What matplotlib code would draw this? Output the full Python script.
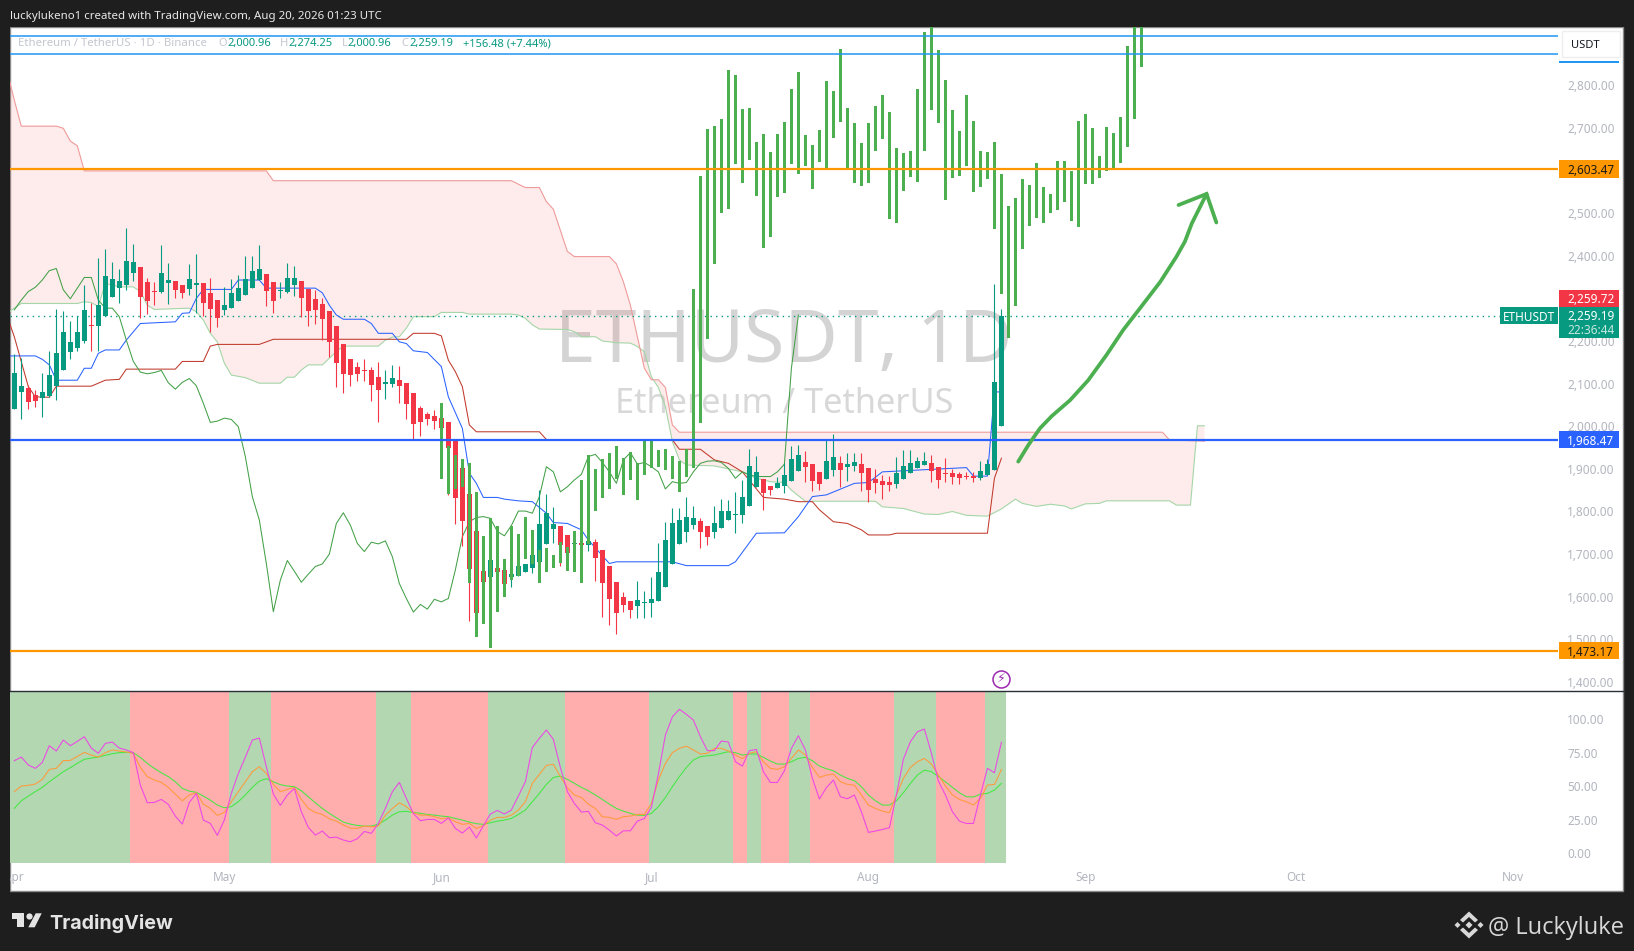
import numpy as np
import matplotlib
matplotlib.use("Agg")
from matplotlib import pyplot as plt
from matplotlib.patches import Rectangle, Polygon
from matplotlib.transforms import blended_transform_factory

plt.rcParams['font.family'] = ['Noto Sans', 'DejaVu Sans']

# daily candles, day 0 = 1 Apr
opens = [2040,2081,2090,2073,2067,2071,2095,2132,2174,2184,
         2200,2238,2235,2259,2304,2325,2331,2360,2374,2338,
         2317,2315,2336,2341,2331,2322,2332,2335,2312,2296,
         2273,2278,2294,2308,2324,2343,2356,2338,2317,2315,
         2331,2340,2323,2299,2287,2270,2235,2193,2158,2138,
         2132,2132,2116,2099,2099,2108,2101,2078,2043,2029,
         2024,2019,2010,1968,1902,1841,1754,1660,1646,1667,
         1663,1646,1649,1658,1667,1682,1724,1759,1766,1745,
         1724,1725,1721,1729,1710,1672,1635,1599,1590,1578,
         1585,1585,1590,1623,1677,1724,1752,1768,1778,1766,
         1752,1761,1780,1791,1792,1813,1858,1876,1860,1855,
         1860,1872,1895,1916,1911,1893,1876,1897,1914,1904,
         1907,1911,1902,1876,1872,1869,1865,1876,1890,1902,
         1909,1914,1904,1890,1890,1888,1883,1883,1879,1886,
         1897,2000.96]
closes = [2125,2094,2058,2059,2080,2120,2172,2221,2198,2220,
          2273,2236,2284,2352,2345,2341,2388,2385,2304,2294,
          2316,2359,2343,2320,2313,2345,2335,2290,2276,2255,
          2284,2312,2324,2345,2364,2368,2318,2294,2320,2347,
          2347,2302,2270,2273,2252,2198,2149,2123,2121,2123,
          2130,2097,2085,2104,2113,2094,2053,2006,2010,2017,
          2012,1995,1948,1832,1778,1665,1562,1635,1686,1658,
          1630,1653,1672,1677,1698,1771,1796,1771,1721,1703,
          1725,1722,1730,1691,1632,1595,1562,1581,1569,1592,
          1588,1595,1658,1733,1773,1780,1787,1785,1752,1740,
          1773,1801,1801,1794,1834,1907,1893,1843,1850,1867,
          1886,1923,1933,1904,1872,1865,1919,1928,1897,1911,
          1916,1890,1850,1867,1862,1862,1890,1907,1914,1919,
          1919,1895,1874,1888,1881,1879,1882,1879,1895,1911,
          2104,2259.19]
highs = [2170,2159,2097,2085,2124,2177,2274,2270,2247,2259,
         2331,2288,2395,2415,2385,2370,2464,2428,2374,2347,
         2338,2425,2382,2341,2331,2381,2404,2335,2347,2296,
         2326,2345,2355,2399,2399,2425,2356,2338,2338,2382,
         2376,2340,2323,2320,2300,2270,2235,2193,2158,2150,
         2158,2140,2150,2132,2144,2141,2101,2078,2048,2034,
         2038,2019,2010,1968,1902,1841,1754,1678,1702,1667,
         1663,1653,1686,1677,1718,1850,1841,1811,1766,1745,
         1725,1725,1737,1735,1710,1672,1635,1612,1590,1637,
         1613,1646,1726,1775,1808,1808,1834,1813,1785,1766,
         1813,1829,1827,1846,1874,1947,1930,1876,1860,1882,
         1913,1954,1956,1942,1911,1893,1970,1982,1930,1937,
         1937,1937,1902,1900,1886,1883,1928,1944,1944,1928,
         1940,1933,1904,1926,1900,1893,1893,1893,1918,1923,
         2334,2274.25]
lows = [2040,2017,2040,2046,2022,2069,2062,2132,2158,2177,
        2195,2177,2177,2259,2304,2288,2320,2341,2255,2263,
        2284,2312,2287,2302,2302,2308,2265,2259,2222,2232,
        2261,2278,2294,2308,2324,2343,2281,2266,2302,2312,
        2306,2257,2235,2241,2202,2163,2093,2079,2095,2105,
        2107,2060,2011,2064,2093,2055,2018,1970,1977,2003,
        1994,1983,1839,1771,1718,1542,1530,1635,1639,1658,
        1630,1624,1649,1658,1656,1682,1724,1725,1672,1703,
        1724,1722,1708,1637,1553,1534,1513,1565,1549,1551,
        1550,1553,1590,1623,1677,1724,1729,1759,1714,1721,
        1738,1761,1780,1750,1773,1813,1858,1804,1839,1855,
        1843,1872,1895,1869,1848,1850,1876,1883,1858,1872,
        1895,1848,1822,1843,1829,1848,1855,1876,1890,1902,
        1909,1869,1855,1869,1865,1865,1876,1869,1874,1886,
        1897,2000.96]

# hand drawn bar pattern, day 61 to day 161
bars_first_day = 61
bars_top = [2055,1954,1933,1923,1914,1846,1743,1785,1766,1689,
            1766,1747,1787,1757,1710,1714,1698,1729,1717,1754,
            1874,1933,1900,1923,1937,1954,1926,1940,1914,1970,
            1970,1944,1947,1930,1918,1947,2322,2587,2697,2704,
            2721,2836,2824,2744,2747,2667,2686,2643,2686,2714,
            2791,2831,2683,2660,2695,2810,2786,2885,2747,2711,
            2665,2711,2751,2777,2737,2653,2641,2646,2791,2925,
            2953,2883,2812,2742,2693,2777,2716,2646,2643,2667,
            2592,2517,2535,2580,2566,2618,2561,2545,2622,2622,
            2599,2716,2733,2700,2634,2702,2688,2726,2892,2953,
            2953]
bars_bottom = [1876,1841,1853,1858,1632,1506,1536,1480,1564,1599,
               1639,1649,1689,1677,1632,1658,1667,1679,1660,1658,
               1632,1724,1801,1832,1853,1876,1839,1874,1827,1886,
               1902,1904,1897,1876,1846,1881,1902,2008,2205,2381,
               2500,2510,2615,2571,2625,2540,2418,2444,2538,2547,
               2615,2592,2611,2557,2620,2603,2676,2714,2601,2571,
               2564,2571,2646,2674,2486,2477,2552,2585,2573,2646,
               2742,2711,2531,2582,2587,2611,2550,2561,2580,2463,
               2310,2207,2282,2416,2470,2489,2477,2500,2507,2526,
               2482,2467,2568,2568,2582,2599,2606,2618,2655,2721,
               2843]

# ichimoku
chikou = [2273,2296,2316,2326,2343,2365,2370,2320,2299,2324,
          2349,2349,2296,2277,2277,2257,2202,2152,2127,2123,
          2126,2131,2102,2087,2103,2112,2095,2054,2009,2012,
          2019,2016,1999,1929,1835,1780,1678,1565,1639,1685,
          1660,1634,1653,1671,1677,1700,1772,1797,1768,1725,
          1706,1728,1724,1731,1694,1631,1596,1564,1582,1571,
          1594,1588,1596,1663,1741,1776,1786,1788,1784,1753,
          1743,1767,1801,1801,1796,1835,1905,1893,1846,1858,
          1874,1887,1929,1934,1915,1893,1866,1921,1938,1911,
          1915,1905,1893,1853,1870,1866,1868,1893,1913,1918,
          1919,1915,1901,1878,1893,1886,1882,1882,1882,1893,
          1911,2136,2261]
tenkan_days = [-1,3,4,5,6,9,10,11,12,13,15,16,18,23,24,25,26,27,31,32,35,36,43,44,45,46,47,50,51,52,54,55,56,57,59,61,62,64,65,66,67,69,70,72,74,76,77,79,81,82,85,86,94,96,102,103,106,110,112,114,116,120,122,124,136,137,139,140,141]
tenkan_vals = [2165,2165,2157,2144,2108,2108,2136,2136,2171,2179,2179,2202,2241,2245,2265,2266,2300,2321,2321,2343,2343,2324,2324,2313,2284,2261,2251,2251,2241,2218,2218,2198,2194,2177,2173,2140,2069,1995,1890,1866,1833,1833,1829,1825,1823,1796,1774,1772,1757,1733,1678,1682,1682,1673,1673,1682,1749,1750,1788,1835,1839,1866,1868,1893,1903,1883,1883,2081,2080]
kijun_days = [-1,0,2,3,5,6,11,13,15,16,23,24,27,28,29,35,37,56,57,60,61,62,63,64,65,66,75,76,77,94,95,98,100,102,104,107,110,112,114,115,117,119,121,122,125,126,139,140,141]
kijun_vals = [2257,2210,2093,2069,2068,2094,2094,2108,2110,2134,2134,2152,2152,2188,2192,2192,2204,2204,2218,2218,2212,2155,2128,2093,2003,1987,1987,1969,1968,1968,1946,1946,1921,1913,1893,1833,1829,1823,1823,1804,1776,1772,1757,1745,1745,1749,1749,1878,1925]
span_a_days = [-1,0,1,9,10,11,12,13,15,17,18,19,20,25,26,27,28,29,30,31,33,35,38,39,40,41,42,44,46,47,52,53,54,55,56,57,60,61,64,65,71,72,73,74,75,79,80,81,83,84,86,88,89,90,91,92,93,94,95,96,100,104,106,108,110,111,113,123,124,127,130,132,134,136,139,141,143,144,146,148,150,151,153,155,156,165,166,168,169,170]
span_a_vals = [2265,2277,2288,2288,2292,2290,2281,2335,2327,2327,2316,2284,2274,2277,2269,2249,2218,2198,2148,2120,2114,2101,2101,2115,2115,2132,2144,2144,2175,2188,2188,2202,2209,2210,2230,2257,2257,2267,2267,2263,2263,2261,2253,2238,2228,2227,2222,2210,2210,2200,2196,2195,2187,2175,2116,2091,2046,1964,1921,1909,1907,1893,1878,1870,1868,1850,1824,1824,1811,1807,1794,1793,1800,1791,1789,1806,1829,1819,1812,1817,1813,1806,1818,1819,1825,1825,1815,1815,2001,2001]
span_b_days = [-1,0,1,6,7,8,9,10,36,37,71,73,75,76,77,79,80,85,86,87,88,89,90,91,92,93,94,95,164,165,170]
span_b_vals = [2832,2765,2704,2704,2699,2669,2658,2599,2599,2576,2576,2560,2560,2527,2509,2410,2398,2398,2381,2339,2284,2210,2136,2109,2109,2091,2003,1986,1986,1968,1965]

# levels drawn on the chart
level_orange = [2603.47, 1473.17]
level_blue = 1968.47
level_cyan = [2914.8, 2872.6]
last_price = 2259.19
price_ticks = list(range(1400, 2900, 100))

# hand drawn arrow
arrow_days = [143.4,144.85,146.5,148.2,150.8,153.4,156,158.4,160.8,163.7,166,167.2,168.2,170.3]
arrow_vals = [1917,1956,1995,2024,2061,2108,2167,2226,2277,2339,2398,2433,2476,2545]
head_days = [166.3,170.3,171.7]
head_vals = [2519,2545,2478]

# stochastic pane
stoch_k = [69.1,71.8,65.9,63.4,67.8,80.3,76.3,84.5,80.3,83.5,
           87,78.5,74.6,82,83,78.5,77.1,75.1,50.9,37.7,
           38,40.2,36.5,27.8,21.8,38,44.7,24.8,22.3,13.4,
           24.8,44.7,59.6,71.6,84.5,86,64.6,44.2,35.7,43.5,
           48.4,31,19.3,13.6,16.6,11.6,12.1,9.9,8.6,10.9,
           16.3,14.9,22.3,33.5,46,52.9,41,29.8,24.3,25.3,
           25.3,22.3,26.5,18.6,15.1,19.6,11.4,20.6,29.3,32,
           29.3,32.3,42.7,53.4,79,85.8,92,85,64.1,46,
           37.2,30.8,31.3,22.8,21.1,17.3,12.9,16.8,16.8,24,
           26,34.3,59.1,88.2,101.9,107.4,103.7,99.4,87,76.6,
           76.6,83.8,83,68.3,65.1,76.6,77.5,60.9,52.9,52.9,
           61.6,78.3,87.7,77.1,55.9,40.5,49,54.7,42.2,40.7,
           43.5,31,15.6,16.6,17.8,19.1,43.5,70.3,83.3,90.7,
           92.7,74.6,53.9,43.5,31,24,22.3,22.3,43.5,63.4,
           60.1,82.8]
stoch_d = [46,50.2,50.7,51.7,55.2,62.6,63.4,69.1,69.3,72.3,
           75.3,73.3,71.8,75.1,77.1,76.3,75.6,74.6,64.1,57.2,
           54.7,52.9,49.2,44.2,39.2,43.5,45.2,36.7,33.5,28.3,
           30.5,38.5,46,53.4,60.9,64.6,59.6,51.4,46,47.7,
           49.2,40.2,33.5,30.5,29,25.8,24,21.1,18.8,18.6,
           20.3,19.8,20.3,28.5,33.5,37.7,34.8,30.3,28.5,28.5,
           27.3,25.8,26.5,23.6,21.6,22.3,18.6,20.6,24.8,26.8,
           26.8,28.5,32.3,38.5,52.2,58.9,65.6,66.4,57.2,48.9,
           43.5,41.7,36.7,33.5,27.3,26.8,25.3,27.3,27.8,29,
           29,37.2,54.7,67.1,75.1,78.3,80,77.1,74.1,74.6,
           78.3,78.3,76.3,73.3,70.6,74.6,75.8,68.3,63.4,62.6,
           64.6,70.8,77.1,73.3,64.1,56.6,58.4,59.1,53.4,51.4,
           50.9,43.5,36,33.5,31.5,30.3,43.5,55.9,64.1,68.3,
           70.8,66.6,58.4,50.2,43.5,40.2,38.5,36,41,50.9,
           51.4,62.6]
stoch_slow = [33.5,39.2,42.7,46,49.2,53.4,57.2,60.9,63.9,67.1,
              70.1,71.1,71.8,73.1,74.3,75.1,75.3,75.1,71.6,67.1,
              63.4,60.1,57.2,53.4,48.4,46.4,45.5,42.7,39.7,36,
              34,34.8,38.5,43.5,49.2,53.9,55.7,53.4,51.2,50.2,
              49.7,46.7,42.2,37.7,33.5,29.8,26.5,23.3,21.8,20.8,
              20.3,20.3,21.8,24.8,28.5,31,31.3,30.5,29.8,29,
              28.5,27.8,27.3,26,24.8,23.3,22.1,21.6,22.8,24,
              24.8,26,29,32.3,38.5,44.7,51.4,56.6,57.6,55.2,
              52.2,49.2,46.7,43.5,40.2,36.7,33.5,31.5,29.8,28.5,
              28.3,29.8,34.8,41.7,49.7,57.2,64.1,69.6,72.1,72.8,
              73.3,74.6,75.8,75.1,73.3,74.1,74.1,71.6,68.8,66.6,
              66.6,68.3,70.8,71.6,69.1,65.1,63.1,61.6,58.4,55.9,
              54.2,49.7,43.5,39.2,36,36,39.2,45.2,52.2,58.4,
              62.1,60.9,57.2,53.4,49.2,45.2,42.2,42,44.2,44.7,
              47.2,52.2]
# days where the background colour flips, starts green
stoch_flips = [-0.6,16.5,30.7,36.7,51.6,56.7,67.7,78.7,90.7,102.7,104.7,106.7,110.7,113.7,125.7,131.7,138.7,141.7]
stoch_ticks = [0, 25, 50, 75, 100]

month_days = [0, 30, 61, 91, 122, 153, 183, 214]
month_names = ['Apr', 'May', 'Jun', 'Jul', 'Aug', 'Sep', 'Oct', 'Nov']

W, H = 1634, 951
DARK = '#1E1E1E'
TEAL = '#089981'
RED = '#F23645'
BARGREEN = '#4CAF50'
ORANGE = '#FF9800'
GREY = '#B2B5BE'


def px_box(left, top, right, bottom):
    return [left / W, 1 - bottom / H, (right - left) / W, (bottom - top) / H]


def fig_rect(left, top, right, bottom, **kw):
    fig.add_artist(Rectangle((left / W, 1 - bottom / H), (right - left) / W, (bottom - top) / H,
                             transform=fig.transFigure, **kw))


def fig_poly(pts, **kw):
    fig.add_artist(Polygon([(x / W, 1 - y / H) for x, y in pts], closed=True,
                           transform=fig.transFigure, **kw))


def fig_text(x, y, s, **kw):
    kw.setdefault('va', 'center_baseline')
    fig.text(x / W, 1 - y / H, s, **kw)


def price_tag(price, label, face, color, left=1559, right=1619, half=20, text_at=None):
    """colored label on the price scale"""
    tr = blended_transform_factory(fig.transFigure, ax.transData)
    ax.add_patch(Rectangle((left / W, price - half), (right - left) / W, 2 * half, transform=tr,
                           facecolor=face, edgecolor='none', clip_on=False, zorder=20))
    ax.text(1567 / W, price if text_at is None else text_at, label, transform=tr, color=color, fontsize=8.5,
            va='center_baseline', ha='left', clip_on=False, zorder=21)


fig = plt.figure(figsize=(W / 100, H / 100), dpi=100, facecolor=DARK)
fig_rect(10, 27, 1623, 891, facecolor='white', edgecolor='#8A8A8A', linewidth=1, zorder=-1)

ax = fig.add_axes(px_box(10, 27, 1558, 691))
osc = fig.add_axes(px_box(10, 691, 1558, 862.7))
for a in (ax, osc):
    a.set_xlim(-0.614, 220.5)
    for s in a.spines.values():
        s.set_visible(False)
ax.set_ylim(1378.9, 2936.6)
osc.set_ylim(-7, 121.1)

# watermark under everything
ax.patch.set_alpha(0)
fig_text(784, 361.5, 'ETHUSDT, 1D', fontsize=52.7, color='#D4D4D4', ha='center', va='baseline', zorder=-0.5)
fig_text(784, 412.7, 'Ethereum / TetherUS', fontsize=24.7, color='#D8D8D8', ha='center', va='baseline', zorder=-0.5)

# cloud
cloud_x = list(span_a_days) + list(span_b_days[::-1])
cloud_y = list(span_a_vals) + list(span_b_vals[::-1])
ax.fill(cloud_x, cloud_y, facecolor='#EF5350', alpha=0.11, edgecolor='none', zorder=1)

ax.plot(span_a_days, span_a_vals, color='#A5D6A7', lw=0.8, zorder=2)
ax.plot(span_b_days, span_b_vals, color='#EF9A9A', lw=0.8, zorder=2)
ax.plot(kijun_days, kijun_vals, color='#C0392B', lw=0.75, zorder=3)
ax.plot(tenkan_days, tenkan_vals, color='#2962FF', lw=0.75, zorder=3)
ax.plot(range(len(chikou)), chikou, color='#43A047', lw=0.75, zorder=3)

# candles
days = np.arange(len(opens))
o = np.array(opens)
c = np.array(closes)
candle_colors = [TEAL if cl >= op else RED for op, cl in zip(o, c)]
ax.vlines(days, lows, highs, colors=candle_colors, lw=0.8, zorder=4)
ax.bar(days, np.maximum(np.abs(c - o), 2), bottom=np.minimum(o, c), width=0.66, color=candle_colors, zorder=5)

# the green bar pattern
bar_days = bars_first_day + np.arange(len(bars_top))
top = np.array(bars_top)
bot = np.array(bars_bottom)
ax.bar(bar_days, top - bot, bottom=bot, width=0.43, color=BARGREEN, zorder=6)

# levels
ax.axhline(last_price, color=TEAL, lw=1, ls=(0, (1, 3)), zorder=2)
for lv in level_cyan:
    ax.axhline(lv, color='#2196F3', lw=1.1, zorder=7)
for lv in level_orange:
    ax.axhline(lv, color=ORANGE, lw=1.6, zorder=7)
ax.axhline(level_blue, color='#2962FF', lw=1.6, zorder=7)

# arrow
ax.plot(arrow_days, arrow_vals, color=BARGREEN, lw=2.7, solid_capstyle='round', zorder=8)
ax.plot(head_days, head_vals, color=BARGREEN, lw=2.7, solid_capstyle='round', solid_joinstyle='miter', zorder=8)

# dividends mark
ax.scatter([141], [1408], s=150, facecolor='white', edgecolor='#9C27B0', linewidth=1.1, zorder=9, clip_on=False)
ax.text(141, 1408, '\u26A1', color='#9C27B0', fontsize=9, ha='center', va='center', zorder=10,
        family=['DejaVu Sans'])

# axes ticks
ax.set_xticks([])
ax.yaxis.tick_right()
ax.set_yticks(price_ticks)
ax.set_yticklabels(['{:,.2f}'.format(p) for p in price_ticks], va='center_baseline')
ax.tick_params(axis='y', length=0, pad=6.5, labelsize=8.5, labelcolor=GREY)

# stochastic pane
for k in range(len(stoch_flips) - 1):
    col = '#B3D7B0' if k % 2 == 0 else '#FFADAD'
    osc.axvspan(stoch_flips[k], stoch_flips[k + 1], color=col, lw=0, zorder=1)
osc.plot(range(len(stoch_k)), stoch_k, color='#EE44E8', lw=0.75, zorder=4)
osc.plot(range(len(stoch_d)), stoch_d, color='#FF9A3C', lw=0.75, zorder=3)
osc.plot(range(len(stoch_slow)), stoch_slow, color='#44E844', lw=0.75, zorder=2)
osc.yaxis.tick_right()
osc.set_yticks(stoch_ticks)
osc.set_yticklabels(['{:.2f}'.format(v) for v in stoch_ticks], va='center_baseline')
osc.set_xticks(month_days)
osc.set_xticklabels(month_names)
osc.tick_params(axis='y', length=0, pad=6.5, labelsize=8.5, labelcolor=GREY)
osc.tick_params(axis='x', length=0, pad=6, labelsize=8.5, labelcolor=GREY)
for lbl in osc.get_xticklabels():
    lbl.set_fontweight('bold')

# pane separator
fig.add_artist(plt.Line2D([10 / W, 1623 / W], [1 - 691 / H, 1 - 691 / H], color='#2A2E39', lw=1, zorder=5))

# price scale tags
price_tag(level_orange[0], '2,603.47', ORANGE, '#1A1A1A')
price_tag(level_orange[1], '1,473.17', ORANGE, '#1A1A1A')
price_tag(level_blue, '1,968.47', '#2962FF', 'white')
price_tag(2300, '2,259.72', RED, 'white')
tr = blended_transform_factory(fig.transFigure, ax.transData)
ax.add_patch(Rectangle((1559 / W, 2207.5), 60 / W, 71.5, transform=tr, facecolor=TEAL, edgecolor='none',
                       clip_on=False, zorder=20))
ax.text(1567 / W, 2262, '2,259.19', transform=tr, color='white', fontsize=8.5, va='center_baseline',
        clip_on=False, zorder=21)
ax.text(1567 / W, 2229, '22:36:44', transform=tr, color='#C5E8DF', fontsize=8.5, va='center_baseline',
        clip_on=False, zorder=21)
ax.add_patch(Rectangle((1500 / W, last_price - 20), 58 / W, 40, transform=tr, facecolor=TEAL, edgecolor='none',
                       clip_on=False, zorder=20))
ax.text(1529 / W, last_price, 'ETHUSDT', transform=tr, color='white', fontsize=8.5, va='center_baseline', ha='center',
        clip_on=False, zorder=21)

# currency button
fig_rect(1562, 31, 1620, 57, facecolor='white', edgecolor='#EEEEEE', linewidth=1, zorder=5)
fig_text(1585, 44.5, 'USDT', color='#131722', fontsize=8, ha='center', zorder=6)
fig_rect(1559, 60.5, 1619, 62.5, facecolor='#2196F3', edgecolor='none', zorder=6)

# frame covers on left, hides clipped Apr label
fig_rect(0, 0, 9.5, H, facecolor=DARK, edgecolor='none', zorder=10)
fig_rect(0, 0, W, 26.5, facecolor=DARK, edgecolor='none', zorder=10)

# header and legend
fig_text(10, 14.5, 'luckylukeno1 created with TradingView.com, Aug 20, 2026 01:23 UTC', color='#E8E8E8', fontsize=8.25,
         zorder=11)
fig_text(18, 42, 'Ethereum / TetherUS \u00b7 1D \u00b7 Binance', color='#C4C6CE', fontsize=8.2, zorder=11)
legend_bits = [(218, 'O', '#C4C6CE'), (227, '2,000.96', TEAL), (280, 'H', '#C4C6CE'), (288, '2,274.25', TEAL),
               (342, 'L', '#C4C6CE'), (347.5, '2,000.96', TEAL), (401, 'C', '#C4C6CE'), (409, '2,259.19', TEAL),
               (462.5, '+156.48 (+7.44%)', TEAL)]
for lx, ls_, lc in legend_bits:
    fig_text(lx, 42, ls_, color=lc, fontsize=8, zorder=11)

# TradingView logo
LOGO = '#E4E4E4'
fig_poly([(12, 913.3), (24, 913.3), (24, 927.3), (17.3, 927.3), (17.3, 918.7), (12, 918.7)], facecolor=LOGO, edgecolor='none', zorder=11)
fig_poly([(35.7, 913.3), (41.7, 913.3), (34.7, 927.3), (28.3, 927.3)], facecolor=LOGO, edgecolor='none', zorder=11)
fig.add_artist(plt.Line2D([29.3 / W], [1 - 916 / H], marker='o', ms=4.5, color=LOGO, mew=0, zorder=11))
fig_text(49, 921.5, 'TradingView', color=LOGO, fontsize=14.2, fontweight='bold', family=['Inter', 'Noto Sans'], zorder=11)

# binance mark and signature
SIG = '#D8D8D8'
bx, by = 1469, 925
for dx, r in [(0, 3.5), (-11.5, 3), (11.5, 3)]:
    fig_poly([(bx + dx - r, by), (bx + dx, by - r), (bx + dx + r, by), (bx + dx, by + r)], facecolor=SIG, edgecolor='none', zorder=11)
for s in (-1, 1):
    fig_poly([(bx, by + s * 13.5), (bx + 9, by + s * 5), (bx + 6, by + s * 2.5), (bx, by + s * 8), (bx - 6, by + s * 2.5), (bx - 9, by + s * 5)],
             facecolor=SIG, edgecolor='none', zorder=11)
fig_text(1488, 925, '@ Luckyluke', color=SIG, fontsize=17, family=['Open Sans', 'Noto Sans'], zorder=11)

fig.savefig('out.png', dpi=100, facecolor=DARK)
